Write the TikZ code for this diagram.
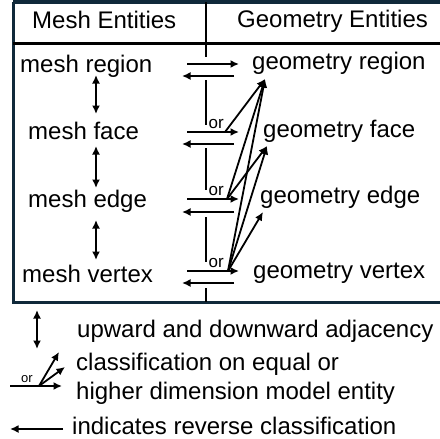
\documentclass[tikz,border=0pt]{standalone}
\usepackage{fontspec}
\setmainfont{Liberation Sans}
\usetikzlibrary{arrows.meta}
\definecolor{boxnavy}{HTML}{10293A}
\begin{document}
\begin{tikzpicture}[x=1pt,y=1pt,
  >={Latex[length=8.5pt,width=8pt]},
  lbl/.style={font=\fontsize{24}{28}\selectfont, inner sep=0pt, anchor=base west},
  orlbl/.style={font=\fontsize{17}{19}\selectfont, inner sep=0pt, anchor=base west},
  smallor/.style={font=\fontsize{13}{15}\selectfont, inner sep=0pt, anchor=base west},
  arr/.style={line width=1.8pt, ->},
  dbl/.style={line width=1.8pt, <->},
  seg/.style={line width=2.2pt},
]
\path[use as bounding box, fill=white] (0,0) rectangle (440,-439);

% frame
\draw[line width=3pt, draw=boxnavy] (13,-2) -- (440,-2);
\draw[line width=3pt, draw=boxnavy] (13,-2) -- (13,-302) -- (440,-302);
\draw[line width=2.6pt] (13,-43.5) -- (440,-43.5);
\draw[seg] (206,-2) -- (206,-57);

% headers
\node[lbl] (hM) at (32,-28) {Mesh Entities};
\node[lbl] (hG) at (237,-27.5) {Geometry Entities};

% mesh labels
\node[lbl] (mR) at (20,-72.5) {mesh region};
\node[lbl] (mF) at (28,-139) {mesh face};
\node[lbl] (mE) at (28,-207) {mesh edge};
\node[lbl] (mV) at (22,-282) {mesh vertex};

% geometry labels
\node[lbl] (gR) at (252,-70) {geometry region};
\node[lbl] (gF) at (263,-137) {geometry face};
\node[lbl] (gE) at (260,-203.5) {geometry edge};
\node[lbl] (gV) at (253,-278) {geometry vertex};

% adjacency arrows
\coordinate (aRF1) at (96,-75);  \coordinate (aRF2) at (96,-114);
\coordinate (aFE1) at (96,-146); \coordinate (aFE2) at (96,-188);
\coordinate (aEV1) at (96,-220); \coordinate (aEV2) at (96,-260);
\draw[dbl] (aRF1) -- (aRF2);
\draw[dbl] (aFE1) -- (aFE2);
\draw[dbl] (aEV1) -- (aEV2);

% vertical segments
\coordinate (s1a) at (206,-80);  \coordinate (s1b) at (206,-125);
\coordinate (s2a) at (206,-148); \coordinate (s2b) at (206,-190);
\coordinate (s3a) at (206,-217); \coordinate (s3b) at (206,-262);
\coordinate (s4a) at (206,-288); \coordinate (s4b) at (206,-302);
\draw[seg] (s1a) -- (s1b);
\draw[seg] (s2a) -- (s2b);
\draw[seg] (s3a) -- (s3b);
\draw[seg] (s4a) -- (s4b);

% or labels
\node[orlbl] (or2) at (208.5,-128) {or};
\node[orlbl] (or3) at (208.5,-195) {or};
\node[orlbl] (or4) at (208.5,-267) {or};

% classification / reverse arrows per row
\foreach \n/\yr/\yl in {R/64/76, F/132/144, E/199/212, V/271/283}{
  \coordinate (cr\n a) at (187,-\yr); \coordinate (cr\n b) at (239,-\yr);
  \coordinate (cl\n a) at (234,-\yl); \coordinate (cl\n b) at (182,-\yl);
  \draw[arr] (cr\n a) -- (cr\n b);
  \draw[arr] (cl\n a) -- (cl\n b);
}

% classification on higher dimension
\coordinate (oF) at (225,-132);
\coordinate (oE) at (227,-199);
\coordinate (oV) at (228,-271);
\coordinate (tR) at (265,-79);
\coordinate (tF) at (267,-146);
\coordinate (tE) at (263,-212);
\draw[arr] (oF) -- (tR);
\draw[arr] (oE) -- (tR);
\draw[arr] (oE) -- (tF);
\draw[arr] (oV) -- (tR);
\draw[arr] (oV) -- (tF);
\draw[arr] (oV) -- (tE);

% legend
\coordinate (l1a) at (37,-310); \coordinate (l1b) at (37,-349);
\draw[dbl] (l1a) -- (l1b);
\node[lbl] (t1) at (77,-337) {upward and downward adjacency};

\coordinate (l2a) at (10,-386); \coordinate (l2b) at (62,-386);
\coordinate (l2o) at (39,-386);
\coordinate (l2c) at (59,-352); \coordinate (l2d) at (65,-367);
\draw[arr] (l2a) -- (l2b);
\draw[arr] (l2o) -- (l2c);
\draw[arr] (l2o) -- (l2d);
\node[smallor] (lor) at (21,-382) {or};
\node[lbl] (t2) at (76,-370) {classification on equal or};
\node[lbl] (t3) at (76,-399) {higher dimension model entity};

\coordinate (l3a) at (63,-429); \coordinate (l3b) at (10,-429);
\draw[arr] (l3a) -- (l3b);
\node[lbl] (t4) at (72,-434) {indicates reverse classification};
\end{tikzpicture}
\end{document}
